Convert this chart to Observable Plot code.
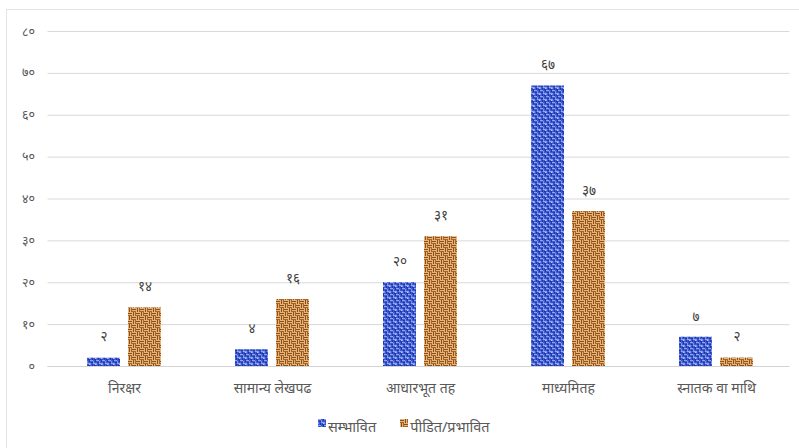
<!DOCTYPE html>
<html>
<head>
<meta charset="utf-8">
<script src="https://cdn.jsdelivr.net/npm/d3@7"></script>
<script src="https://cdn.jsdelivr.net/npm/@observablehq/plot@0.6"></script>
<style>
  html, body { margin: 0; padding: 0; background: #fff; }
  body { width: 799px; height: 448px; overflow: hidden; position: relative; font-family: "Noto Sans", "Noto Sans Devanagari", sans-serif; }
  #frame { position: absolute; left: 6px; top: 9px; width: 800px; height: 445px; border: 1px solid #e3e3e3; box-sizing: border-box; }
  #chart { position: absolute; left: 0; top: 0; }
  #legend { position: absolute; left: 318px; top: 416px; display: flex; gap: 24px; font-size: 14.5px; color: #595959; }
  .item { display: flex; align-items: center; gap: 2px; }
</style>
</head>
<body>
<div id="frame"></div>
<div id="chart"></div>
<div id="legend"></div>
<script>
const categories = ["निरक्षर", "सामान्य लेखपढ", "आधारभूत तह", "माध्यमितह", "स्नातक वा माथि"];
const seriesNames = ["सम्भावित", "पीडित/प्रभावित"];
const possibleValues = [2, 4, 20, 67, 7];
const affectedValues = [14, 16, 31, 37, 2];
const yTicks = [0, 10, 20, 30, 40, 50, 60, 70, 80];

const devDigits = "०१२३४५६७८९";
const toDev = n => String(n).replace(/[0-9]/g, d => devDigits[d]);

const possible = categories.map((c, i) => ({category: c, value: possibleValues[i]}));
const affected = categories.map((c, i) => ({category: c, value: affectedValues[i]}));

const W = 799, H = 405;
const mL = 49.5, mR = 9.5;
const step = (W - mL - mR) / 5;
const bw = step * 0.5;
const gap = 8;
const barW = (bw - gap) / 2;

const chart = Plot.plot({
  width: W,
  height: H,
  marginLeft: mL,
  marginRight: mR,
  marginTop: 31,
  marginBottom: 39,
  style: {fontFamily: '"Noto Sans", "Noto Sans Devanagari", sans-serif', color: "#595959", background: "transparent"},
  x: {domain: categories, paddingInner: 0.5, paddingOuter: 0.25, label: null, tickSize: 0, tickPadding: 17},
  y: {domain: [0, 80], ticks: yTicks, tickFormat: toDev, label: null, tickSize: 0, tickPadding: 15},
  marks: [
    Plot.gridY(yTicks, {stroke: "#d9d9d9", strokeOpacity: 1, insetLeft: -2}),
    Plot.barY(possible, {x: "category", y: "value", fill: "url(#blueTex)", insetRight: bw - barW, insetLeft: 0}),
    Plot.barY(affected, {x: "category", y: "value", fill: "url(#brownTex)", insetLeft: bw - barW, insetRight: 0}),
    Plot.ruleY([0], {stroke: "#d4d4d4", insetLeft: -2}),
    Plot.text(possible, {x: "category", y: "value", text: d => toDev(d.value), dx: -(barW + gap) / 2, dy: -21, fill: "#404040", fontSize: 13.5}),
    Plot.text(affected, {x: "category", y: "value", text: d => toDev(d.value), dx: (barW + gap) / 2, dy: -21, fill: "#404040", fontSize: 13.5})
  ]
});

chart.querySelectorAll("g[aria-label='x-axis tick label']").forEach(el => el.setAttribute("font-size", "14"));
chart.querySelectorAll("g[aria-label='y-axis tick label']").forEach(el => el.setAttribute("font-size", "12.5"));

const ns = "http://www.w3.org/2000/svg";
const defsMarkup = `
<pattern id="blueTex" patternUnits="userSpaceOnUse" width="6" height="6">
  <rect width="6" height="6" fill="#3d5ad2"/>
  <rect x="0" y="0" width="3" height="1" fill="#8fa3ee"/>
  <rect x="3" y="1" width="1" height="2" fill="#7c93e8"/>
  <rect x="1" y="2" width="2" height="1" fill="#1f38a6"/>
  <rect x="5" y="0" width="1" height="2" fill="#1f38a6"/>
  <rect x="3" y="3" width="3" height="1" fill="#8fa3ee"/>
  <rect x="0" y="3" width="1" height="2" fill="#7c93e8"/>
  <rect x="4" y="5" width="2" height="1" fill="#1f38a6"/>
  <rect x="2" y="4" width="1" height="2" fill="#1f38a6"/>
  <rect x="5" y="4" width="1" height="1" fill="#b5c2f5"/>
</pattern>
<pattern id="brownTex" patternUnits="userSpaceOnUse" width="8" height="8">
  <rect width="8" height="8" fill="#c07d3c"/>
  <rect x="0" y="0" width="4" height="1" fill="#e6b474"/>
  <rect x="0" y="2" width="4" height="1" fill="#e6b474"/>
  <rect x="0" y="1" width="4" height="1" fill="#8a4d1f"/>
  <rect x="0" y="3" width="4" height="1" fill="#a66428"/>
  <rect x="4" y="0" width="1" height="4" fill="#e6b474"/>
  <rect x="6" y="0" width="1" height="4" fill="#e6b474"/>
  <rect x="5" y="0" width="1" height="4" fill="#8a4d1f"/>
  <rect x="7" y="0" width="1" height="4" fill="#a66428"/>
  <rect x="0" y="4" width="1" height="4" fill="#e6b474"/>
  <rect x="2" y="4" width="1" height="4" fill="#e6b474"/>
  <rect x="1" y="4" width="1" height="4" fill="#8a4d1f"/>
  <rect x="3" y="4" width="1" height="4" fill="#a66428"/>
  <rect x="4" y="4" width="4" height="1" fill="#e6b474"/>
  <rect x="4" y="6" width="4" height="1" fill="#e6b474"/>
  <rect x="4" y="5" width="4" height="1" fill="#8a4d1f"/>
  <rect x="4" y="7" width="4" height="1" fill="#a66428"/>
</pattern>`;
const defs = document.createElementNS(ns, "defs");
defs.innerHTML = defsMarkup;
chart.insertBefore(defs, chart.firstChild);

document.getElementById("chart").appendChild(chart);

const legend = document.getElementById("legend");
const patIds = ["blueTex", "brownTex"];
seriesNames.forEach((name, i) => {
  const item = document.createElement("div");
  item.className = "item";
  item.innerHTML = `<svg width="8" height="8" style="margin-top:-7px"><rect width="8" height="8" fill="url(#${patIds[i]})"/></svg><span>${name}</span>`;
  legend.appendChild(item);
});
</script>
</body>
</html>
